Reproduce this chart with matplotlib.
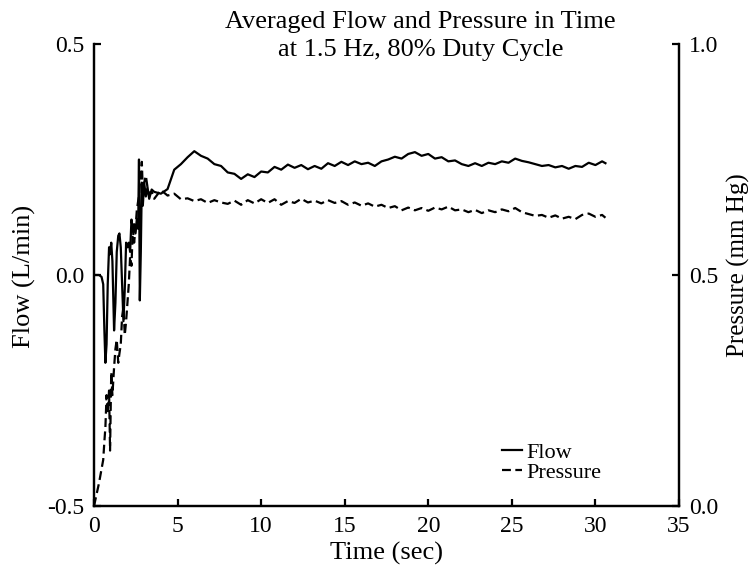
import matplotlib
matplotlib.use("Agg")
import matplotlib.pyplot as plt

plt.rcParams['font.family'] = ['Liberation Serif', 'DejaVu Serif']

# Time (sec), dense during the start-up transient
time = [0.0, 0.3, 0.45, 0.55, 0.62, 0.68, 0.75, 0.82, 0.9, 0.96,
        1.03, 1.1, 1.2, 1.28, 1.36, 1.45, 1.52, 1.6, 1.68, 1.76,
        1.84, 1.92, 2.0, 2.08, 2.16, 2.24, 2.32, 2.4, 2.48, 2.56,
        2.64, 2.69, 2.74, 2.8, 2.86, 2.92, 3.0, 3.1, 3.2, 3.3, 3.45,
        3.6, 4.0, 4.4, 4.8, 5.2, 5.6, 6.0, 6.4, 6.8, 7.2,
        7.6, 8.0, 8.4, 8.8, 9.2, 9.6, 10.0, 10.4, 10.8, 11.2,
        11.6, 12.0, 12.4, 12.8, 13.2, 13.6, 14.0, 14.4, 14.8, 15.2,
        15.6, 16.0, 16.4, 16.8, 17.2, 17.6, 18.0, 18.4, 18.8, 19.2,
        19.6, 20.0, 20.4, 20.8, 21.2, 21.6, 22.0, 22.4, 22.8, 23.2,
        23.6, 24.0, 24.4, 24.8, 25.2, 25.6, 26.0, 26.4, 26.8, 27.2,
        27.6, 28.0, 28.4, 28.8, 29.2, 29.6, 30.0, 30.4, 30.6]

# Flow (L/min), left axis
flow = [0.0, 0.0, -0.004, -0.02, -0.12, -0.19, -0.15, -0.02, 0.06, 0.045,
        0.07, 0.03, -0.12, -0.06, 0.05, 0.085, 0.09, 0.06, -0.02, -0.10,
        -0.03, 0.07, 0.06, 0.07, 0.05, 0.12, 0.10, 0.11, 0.09, 0.12,
        0.10, 0.25, -0.055, 0.05, 0.20, 0.15, 0.20, 0.17, 0.19, 0.165, 0.185,
        0.180, 0.176, 0.186, 0.228, 0.240, 0.255, 0.268, 0.258, 0.252, 0.240,
        0.236, 0.222, 0.219, 0.208, 0.218, 0.212, 0.224, 0.222, 0.234, 0.228,
        0.239, 0.232, 0.238, 0.229, 0.236, 0.230, 0.242, 0.236, 0.245, 0.238,
        0.246, 0.240, 0.243, 0.236, 0.246, 0.250, 0.256, 0.252, 0.262, 0.266,
        0.258, 0.262, 0.252, 0.255, 0.246, 0.248, 0.240, 0.236, 0.242, 0.236,
        0.243, 0.240, 0.246, 0.243, 0.252, 0.247, 0.244, 0.240, 0.236, 0.238,
        0.233, 0.236, 0.230, 0.236, 0.234, 0.243, 0.238, 0.246, 0.242]

# Pressure (mm Hg), right axis
pressure = [0.0, 0.05, 0.08, 0.10, 0.14, 0.17, 0.24, 0.20, 0.25, 0.12,
            0.29, 0.24, 0.30, 0.34, 0.36, 0.31, 0.33, 0.35, 0.41, 0.43,
            0.37, 0.40, 0.44, 0.48, 0.54, 0.52, 0.60, 0.57, 0.60, 0.64,
            0.66, 0.67, 0.70, 0.72, 0.745, 0.68, 0.70, 0.715, 0.69, 0.675, 0.68,
            0.665, 0.684, 0.672, 0.676, 0.664, 0.666, 0.660, 0.664, 0.656, 0.662,
            0.657, 0.654, 0.661, 0.652, 0.662, 0.655, 0.664, 0.656, 0.664, 0.652,
            0.660, 0.656, 0.665, 0.657, 0.661, 0.655, 0.662, 0.656, 0.660, 0.652,
            0.657, 0.650, 0.655, 0.648, 0.652, 0.645, 0.649, 0.640, 0.646, 0.640,
            0.645, 0.639, 0.646, 0.642, 0.648, 0.640, 0.642, 0.636, 0.641, 0.634,
            0.640, 0.636, 0.642, 0.638, 0.645, 0.636, 0.632, 0.628, 0.630, 0.624,
            0.629, 0.622, 0.626, 0.621, 0.630, 0.633, 0.626, 0.630, 0.624]

x_ticks = [0, 5, 10, 15, 20, 25, 30, 35]
flow_ticks = [-0.5, 0.0, 0.5]
pressure_ticks = [0.0, 0.5, 1.0]

fs_tick = 17
fs_label = 19

fig = plt.figure(figsize=(7.54, 5.76), dpi=100)
ax = fig.add_axes([0.1247, 0.1215, 0.7758, 0.8021])
ax2 = ax.twinx()

ax.plot(time, flow, color='black', linewidth=1.6, label='Flow')
ax2.plot(time, pressure, color='black', linewidth=1.6, dashes=(4, 2),
         label='Pressure')

ax.set_xlim(0, 35)
ax.set_ylim(-0.5, 0.5)
ax2.set_ylim(0.0, 1.0)
ax.set_xticks(x_ticks)
ax.set_yticks(flow_ticks)
ax.set_yticklabels(['-0.5', '0.0', '0.5'])
ax2.set_yticks(pressure_ticks)
ax2.set_yticklabels(['0.0', '0.5', '1.0'])

for a in (ax, ax2):
    a.spines['top'].set_visible(False)
    for s in a.spines.values():
        s.set_linewidth(1.6)
    a.tick_params(direction='in', length=5, width=1.6, labelsize=fs_tick, pad=7)

ax.set_xlabel('Time (sec)', fontsize=fs_label, labelpad=4)
fig.text(0.033, 0.52, 'Flow (L/min)', rotation=90, fontsize=fs_label,
         ha='center', va='center')
fig.text(0.979, 0.54, 'Pressure (mm Hg)', rotation=90, fontsize=18,
         ha='center', va='center')

fig.text(0.558, 0.962, 'Averaged Flow and Pressure in Time', fontsize=fs_label,
         ha='center', va='center')
fig.text(0.558, 0.913, 'at 1.5 Hz, 80% Duty Cycle', fontsize=fs_label,
         ha='center', va='center')

h1, l1 = ax.get_legend_handles_labels()
h2, l2 = ax2.get_legend_handles_labels()
ax2.legend(h1 + h2, l1 + l2, loc='center left',
           bbox_to_anchor=(0.651, 0.197), bbox_transform=fig.transFigure,
           frameon=False, fontsize=16, handlelength=0.9, handletextpad=0.2,
           labelspacing=0.0, borderpad=0)

fig.savefig('out.png', dpi=100)
